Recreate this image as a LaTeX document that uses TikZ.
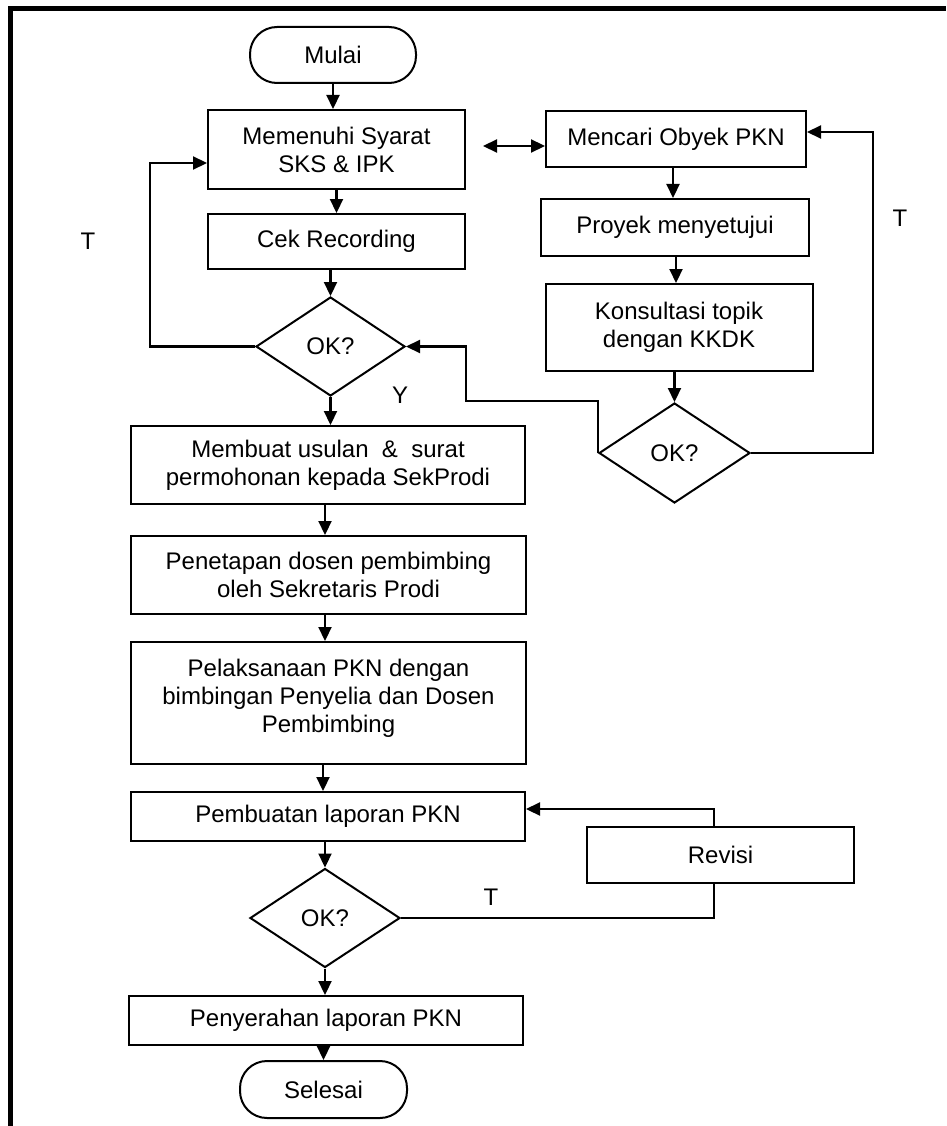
\documentclass[tikz,border=0pt]{standalone}
\usepackage{fontspec}
\setmainfont{Liberation Sans}
\usetikzlibrary{shapes.geometric,arrows.meta}
\begin{document}
\begin{tikzpicture}[x=1pt,y=-1pt,
  font=\fontsize{24}{28}\selectfont,
  procbox/.style={draw, line width=2pt, align=center, inner sep=0pt},
  termbox/.style={draw, line width=2pt, rounded corners=27pt, align=center, inner sep=0pt},
  decis/.style={draw, diamond, line width=2pt, inner sep=0pt, align=center},
  conn/.style={line width=2pt},
  arr/.style={line width=2.2pt, -{Triangle[length=14pt,width=13pt]}},
  darr/.style={line width=2.2pt, {Triangle[length=14pt,width=13pt]}-{Triangle[length=14pt,width=13pt]}},
  lbl/.style={inner sep=0pt}]
\useasboundingbox (0,0) rectangle (946,1126);
% frame
\draw[line width=5pt] (10.5,1126) -- (10.5,8.5) -- (946,8.5);

% left column
\node[termbox, minimum width=166pt, minimum height=56pt] (mulai) at (333,55) {Mulai};
\node[procbox, minimum width=257pt, minimum height=79pt] (memenuhi) at (336.5,149.5) {Memenuhi Syarat\\SKS \& IPK};
\node[procbox, minimum width=257pt, minimum height=55pt] (cek) at (336.5,241.5) {Cek Recording};
\node[decis, minimum width=149pt, minimum height=99pt] (ok1) at (330.5,346.5) {OK?};
\node[procbox, minimum width=394pt, minimum height=78pt] (membuat) at (328,465) {Membuat usulan\ \ \&\ \ surat\\permohonan kepada SekProdi};
\node[procbox, minimum width=395pt, minimum height=78pt] (penetapan) at (328.5,575) {Penetapan dosen pembimbing\\oleh Sekretaris Prodi};
\node[procbox, minimum width=395pt, minimum height=122pt] (pelak) at (328.5,703) {Pelaksanaan PKN dengan\\bimbingan Penyelia dan Dosen\\Pembimbing\\[-14pt]\mbox{}};
\node[procbox, minimum width=394pt, minimum height=49pt] (pembuatan) at (328,816.5) {Pembuatan laporan PKN};
\node[decis, minimum width=150pt, minimum height=99pt] (ok3) at (325,918) {OK?};
\node[procbox, minimum width=394pt, minimum height=49pt] (penyerahan) at (326,1020.5) {Penyerahan laporan PKN};
\node[termbox, minimum width=167pt, minimum height=57pt] (selesai) at (323.5,1089.5) {Selesai};

% right column
\node[procbox, minimum width=260pt, minimum height=56pt] (mencari) at (676,139) {Mencari Obyek PKN};
\node[procbox, minimum width=268pt, minimum height=57pt] (proyek) at (675,227.5) {Proyek menyetujui};
\node[procbox, minimum width=267pt, minimum height=87pt] (konsul) at (679,327.5) {Konsultasi topik\\dengan KKDK};
\node[decis, minimum width=151pt, minimum height=100pt] (ok2) at (674.5,453) {OK?};
\node[procbox, minimum width=267pt, minimum height=56pt] (revisi) at (720.5,855) {Revisi};

% labels
\node[lbl] (tleft) at (88,241) {T};
\node[lbl] (tright) at (900,218) {T};
\node[lbl] (ylab) at (400,395) {Y};
\node[lbl] (tbot) at (491,897) {T};

% coordinates
\coordinate (tl) at (150,163);
\coordinate (da) at (483,146);
\coordinate (m1) at (466,401);
\coordinate (r1) at (873,132);
\coordinate (rv) at (714,809);

% vertical flow
\draw[arr] (mulai) -- (mulai |- memenuhi.north);
\draw[arr] (memenuhi) -- (memenuhi |- cek.north);
\draw[arr] (cek.south -| ok1) -- (ok1.north);
\draw[arr] (ok1.south) -- (ok1.south |- membuat.north);
\draw[arr] (membuat.south -| 325,0) -- (325,0 |- penetapan.north);
\draw[arr] (penetapan.south -| 325,0) -- (325,0 |- pelak.north);
\draw[arr] (pelak.south -| 323,0) -- (323,0 |- pembuatan.north);
\draw[arr] (pembuatan.south -| ok3) -- (ok3.north);
\draw[arr] (ok3.south) -- (ok3.south |- penyerahan.north);
\draw[arr] (penyerahan.south -| selesai) -- (selesai.north);
\draw[arr] (mencari.south -| 673,0) -- (673,0 |- proyek.north);
\draw[arr] (proyek.south -| 676,0) -- (676,0 |- konsul.north);
\draw[arr] (konsul.south -| ok2) -- (ok2.north);

% loops
\draw[arr] (ok1.west) -| (tl) -- (tl -| memenuhi.west);
\draw[darr] (da) -- (da -| mencari.west);
\draw[arr] (ok2.west) |- (m1) |- (ok1.east);
\draw[arr] (ok2.east) -| (r1) -- (r1 -| mencari.east);
\draw[conn] (ok3.east) -| (revisi.south -| rv);
\draw[arr] (revisi.north -| rv) |- (pembuatan.east |- rv);
\end{tikzpicture}
\end{document}
